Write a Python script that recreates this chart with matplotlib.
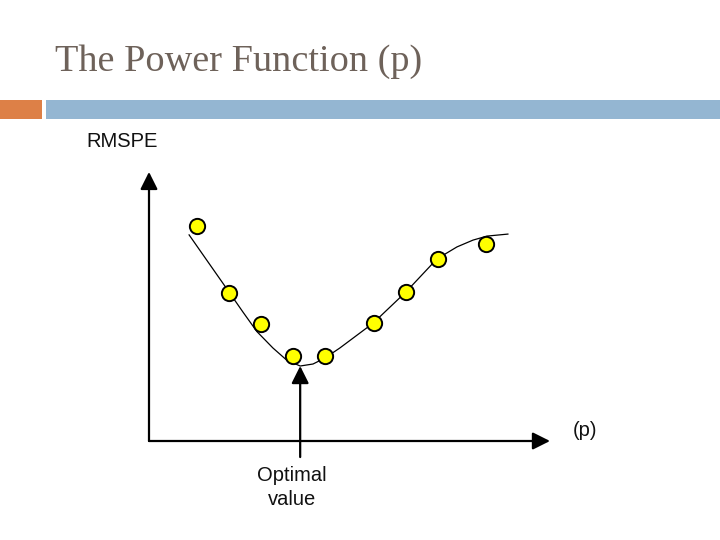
import matplotlib
matplotlib.use("Agg")
import matplotlib.pyplot as plt
from matplotlib.patches import Rectangle

# measured points (p, RMSPE) in arbitrary units
p_points = [1.2, 2.0, 2.8, 3.6, 4.4, 5.6, 6.4, 7.2, 8.4]
rmspe_points = [5.35, 3.70, 2.92, 2.12, 2.12, 2.94, 3.72, 4.54, 4.91]

# hand-drawn fit curve
p_curve = [1.00, 1.44, 2.00, 2.34, 2.69, 3.09, 3.43, 3.77, 4.09, 4.39,
           4.76, 5.59, 6.41, 7.18, 7.68, 8.08, 8.43, 8.95]
rmspe_curve = [5.14, 4.51, 3.71, 3.22, 2.73, 2.32, 2.02, 1.87, 1.92, 2.07,
               2.32, 2.94, 3.72, 4.54, 4.84, 5.01, 5.11, 5.16]

p_optimal = 3.77
rmspe_optimal = 1.87

title = "The Power Function (p)"

fig = plt.figure(figsize=(7.2, 5.4), dpi=100)
W, H = 720, 540

# header bars (slide decoration)
fig.patches.append(Rectangle((0, 1 - 119 / H), 42 / W, 19 / H,
                             transform=fig.transFigure, color="#DD8047", lw=0))
fig.patches.append(Rectangle((46 / W, 1 - 119 / H), 1 - 46 / W, 19 / H,
                             transform=fig.transFigure, color="#94B6D2", lw=0))
fig.text(55 / W, 1 - 71 / H, title, fontsize=27.5, family="Liberation Serif",
         color="#6E625A", ha="left", va="baseline")

# chart area: origin at (149, 441) px, 40.1 px per unit
ax = fig.add_axes([149 / W, 1 - 441 / H, 441.1 / W, 280.7 / H])
ax.set_xlim(0, 11)
ax.set_ylim(0, 7)
ax.axis("off")

arrow = dict(arrowstyle="-|>,head_length=0.7,head_width=0.35", color="black",
             lw=1.6, mutation_scale=15, shrinkA=0, shrinkB=0)
ax.annotate("", xy=(0, 6.71), xytext=(0, 0), arrowprops=arrow, annotation_clip=False)
ax.annotate("", xy=(10.0, 0), xytext=(0, 0), arrowprops=arrow, annotation_clip=False)
ax.annotate("", xy=(p_optimal, rmspe_optimal), xytext=(p_optimal, -0.40),
            arrowprops=arrow, annotation_clip=False)

ax.plot(p_curve, rmspe_curve, color="black", lw=0.9, zorder=2)
ax.plot(p_points, rmspe_points, "o", ms=11, mfc="#FFFF00", mec="black",
        mew=1.4, zorder=3)

lab = dict(family="Liberation Sans", fontsize=14.5, color="#111111")
ax.text(-1.55, 7.48, "RMSPE", ha="left", va="center", clip_on=False, **lab)
ax.text(10.57, 0.27, "(p)", ha="left", va="center", clip_on=False, **lab)
ax.text(3.57, -0.63, "Optimal\nvalue", ha="center", va="top", linespacing=1.3,
        clip_on=False, **lab)

fig.savefig("out.png", dpi=100)
